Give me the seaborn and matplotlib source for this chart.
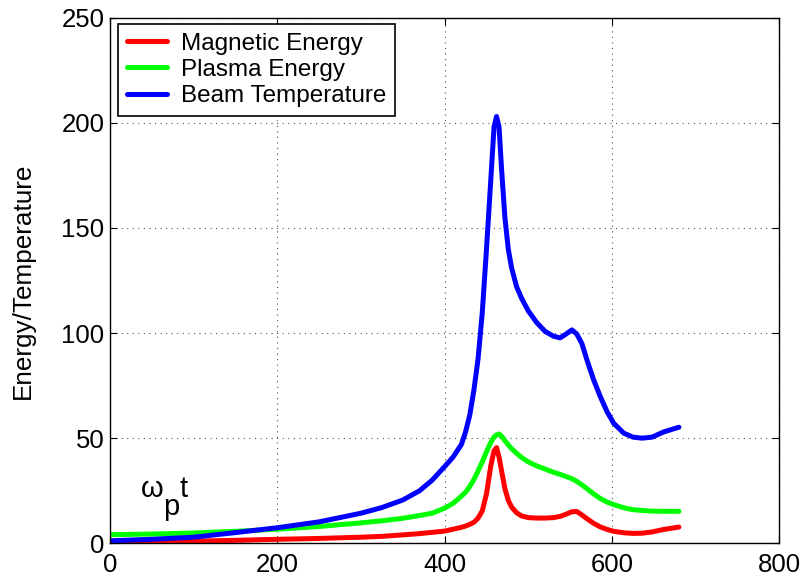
import numpy as np
import pandas as pd
import matplotlib
matplotlib.use("Agg")
import matplotlib.pyplot as plt
import seaborn as sns

# ---- data ----
x_vals = [0, 50, 100, 150, 200, 250, 300, 325, 350, 370, 385, 400, 410, 420, 425,
          430, 435, 440, 445, 450, 455, 459, 462, 465, 468, 472, 476, 480, 486, 492,
          500, 510, 520, 530, 538, 545, 552, 558, 564, 570, 578, 586, 594, 602, 614,
          625, 636, 648, 662, 680]

beam_temperature = [1.2, 1.9, 2.9, 5.1, 7.4, 10.2, 14.3, 17, 20.6, 25, 30, 36.5, 41, 47, 53,
                    61, 73, 88, 110, 140, 172, 198, 203, 198, 178, 155, 140, 131, 122, 116.5,
                    110.5, 105, 100.8, 98.5, 97.7, 99.5, 101.5, 99.5, 95, 87.3, 77.8, 69.8, 62.7, 57.1, 52.4,
                    50.5, 50, 50.5, 53, 55.2]

plasma_energy = [4.1, 4.4, 4.9, 5.7, 6.7, 8, 9.7, 10.7, 11.9, 13.2, 14.3, 16.7, 19, 22.4, 24.3,
                 27, 30.4, 34.5, 38.8, 43.5, 47.9, 50.5, 51.5, 52, 51, 48.8, 46.8, 45, 42.8, 40.8,
                 38.7, 36.8, 35.3, 33.8, 32.8, 31.8, 30.7, 29.4, 27.8, 26, 23.5, 21.3, 19.6, 18.4, 16.9,
                 16, 15.6, 15.3, 15.2, 15.2]

magnetic_energy = [0.5, 0.7, 1, 1.4, 1.9, 2.3, 2.9, 3.3, 4, 4.6, 5.2, 5.8, 6.7, 7.6, 8.2,
                   9, 10, 12, 15.5, 23.5, 36.5, 44, 45.5, 41, 34.5, 26, 20.5, 17.2, 14.5, 13,
                   12.2, 12, 12, 12.2, 12.8, 13.8, 15, 15.1, 13.5, 11.7, 9.5, 7.8, 6.6, 5.7, 5,
                   4.7, 4.8, 5.4, 6.6, 7.7]

series_names = ["Magnetic Energy", "Plasma Energy", "Beam Temperature"]
series_colors = ["#ff0000", "#00ff00", "#0000ff"]
x_ticks = [0, 200, 400, 600, 800]
y_ticks = [0, 50, 100, 150, 200, 250]

df = pd.DataFrame({
    "t": x_vals * 3,
    "value": magnetic_energy + plasma_energy + beam_temperature,
    "series": [series_names[0]] * len(x_vals) + [series_names[1]] * len(x_vals)
              + [series_names[2]] * len(x_vals),
})

sns.set_style("white")
plt.rcParams["font.family"] = ["Liberation Sans", "DejaVu Sans"]
plt.rcParams["text.color"] = "black"
plt.rcParams["axes.labelcolor"] = "black"
plt.rcParams["xtick.color"] = "black"
plt.rcParams["ytick.color"] = "black"

fig = plt.figure(figsize=(8.02, 5.76), dpi=100)
ax = fig.add_axes([0.1372, 0.0568, 0.8345, 0.9125])

sns.lineplot(data=df, x="t", y="value", hue="series", hue_order=series_names,
             palette=series_colors, linewidth=3.6, ax=ax, sort=False, estimator=None)

ax.set_xlim(0, 800)
ax.set_ylim(0, 250)
ax.set_xticks(x_ticks)
ax.set_yticks(y_ticks)
ax.set_xticklabels([str(v) for v in x_ticks], fontsize=18.5)
ax.set_yticklabels([str(v) for v in y_ticks], fontsize=18.5)
ax.set_xlabel("")
ax.set_ylabel("Energy/Temperature", fontsize=18.8)
ax.yaxis.set_label_coords(-0.112, 0.5)

ax.grid(True, color="#555555", linestyle=(0, (1, 4)), linewidth=0.8)
ax.tick_params(axis="both", direction="in", length=5, width=0.8, top=True, right=True,
               bottom=True, left=True, colors="black")
ax.tick_params(axis="x", pad=7)
ax.tick_params(axis="y", pad=4)
for sp in ax.spines.values():
    sp.set_visible(True)
    sp.set_color("black")
    sp.set_linewidth(1.0)

# omega_p t annotation (subscript p set lower, same size)
ax.text(36.7, 22.2, "ω", fontsize=21, va="baseline", ha="left")
ax.text(63.4, 13.6, "p", fontsize=21, va="baseline", ha="left")
ax.text(82.5, 22.2, "t", fontsize=21, va="baseline", ha="left")

leg = ax.legend(loc="upper left", bbox_to_anchor=(0.012, 0.988), borderaxespad=0,
                fontsize=17.5, frameon=True, fancybox=False, handlelength=1.65,
                labelspacing=0.18, handletextpad=0.6, borderpad=0.35)
leg.get_frame().set_edgecolor("black")
leg.get_frame().set_linewidth(1.2)
leg.get_frame().set_alpha(1)
for line in leg.get_lines():
    line.set_linewidth(3.6)

fig.savefig("out.png", dpi=100)
